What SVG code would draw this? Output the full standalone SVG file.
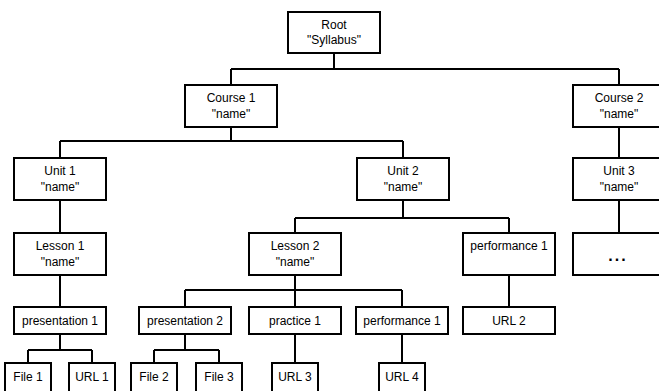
<svg xmlns="http://www.w3.org/2000/svg" width="659" height="391" viewBox="0 0 659 391">
<style>
rect{fill:#fff;stroke:#000;stroke-width:2}
text{font-family:"Liberation Sans",Arial,sans-serif;font-size:12px;fill:#000;text-anchor:middle}
#connectors path{fill:none;stroke:#000;stroke-width:2}
</style>
<rect x="0" y="0" width="659" height="391" style="stroke:none"/>
<g id="connectors">
<path d="M334 53V69M231 69H619M231 69V85M619 69V85"/>
<path d="M231 127V141M60 141H403M60 141V158M403 141V158"/>
<path d="M619 127V158M619 200V233"/>
<path d="M60 200V233M60 275V307"/>
<path d="M403 200V218M295 218H509M295 218V233M509 218V233"/>
<path d="M295 275V290M185 290H402M185 290V307M295 290V307M402 290V307"/>
<path d="M509 275V307"/>
<path d="M60 334V350M28 350H92M28 350V363M92 350V363"/>
<path d="M185 334V350M154 350H219M154 350V363M219 350V363"/>
<path d="M295 334V363M402 334V363"/>
</g>
<g id="root"><rect x="288" y="12" width="92" height="41"/><text x="334" y="29">Root</text><text x="334" y="44">"Syllabus"</text></g>
<g id="course1"><rect x="185" y="85" width="92" height="42"/><text x="231" y="102">Course 1</text><text x="231" y="118">"name"</text></g>
<g id="course2"><rect x="573" y="85" width="92" height="42"/><text x="619" y="102">Course 2</text><text x="619" y="118">"name"</text></g>
<g id="unit1"><rect x="14" y="158" width="92" height="42"/><text x="60" y="175">Unit 1</text><text x="60" y="191">"name"</text></g>
<g id="unit2"><rect x="357" y="158" width="92" height="42"/><text x="403" y="175">Unit 2</text><text x="403" y="191">"name"</text></g>
<g id="unit3"><rect x="573" y="158" width="92" height="42"/><text x="619" y="175">Unit 3</text><text x="619" y="191">"name"</text></g>
<g id="lesson1"><rect x="14" y="233" width="92" height="42"/><text x="60" y="250">Lesson 1</text><text x="60" y="266">"name"</text></g>
<g id="lesson2"><rect x="249" y="233" width="92" height="42"/><text x="295" y="250">Lesson 2</text><text x="295" y="266">"name"</text></g>
<g id="performance1a"><rect x="463" y="233" width="92" height="42"/><text x="509" y="250">performance 1</text></g>
<g id="more"><rect x="573" y="233" width="92" height="42"/><text x="618" y="261" style="font-size:16px;font-weight:bold;letter-spacing:2px">...</text></g>
<g id="presentation1"><rect x="14" y="307" width="92" height="27"/><text x="60" y="325">presentation 1</text></g>
<g id="presentation2"><rect x="139" y="307" width="92" height="27"/><text x="185" y="325">presentation 2</text></g>
<g id="practice1"><rect x="249" y="307" width="92" height="27"/><text x="295" y="325">practice 1</text></g>
<g id="performance1b"><rect x="356" y="307" width="92" height="27"/><text x="402" y="325">performance 1</text></g>
<g id="url2"><rect x="463" y="307" width="92" height="27"/><text x="509" y="325">URL 2</text></g>
<g id="file1"><rect x="5" y="363" width="46" height="40"/><text x="28" y="381">File 1</text></g>
<g id="url1"><rect x="69" y="363" width="46" height="40"/><text x="92" y="381">URL 1</text></g>
<g id="file2"><rect x="131" y="363" width="46" height="40"/><text x="154" y="381">File 2</text></g>
<g id="file3"><rect x="196" y="363" width="46" height="40"/><text x="219" y="381">File 3</text></g>
<g id="url3"><rect x="272" y="363" width="46" height="40"/><text x="295" y="381">URL 3</text></g>
<g id="url4"><rect x="379" y="363" width="46" height="40"/><text x="402" y="381">URL 4</text></g>
</svg>
